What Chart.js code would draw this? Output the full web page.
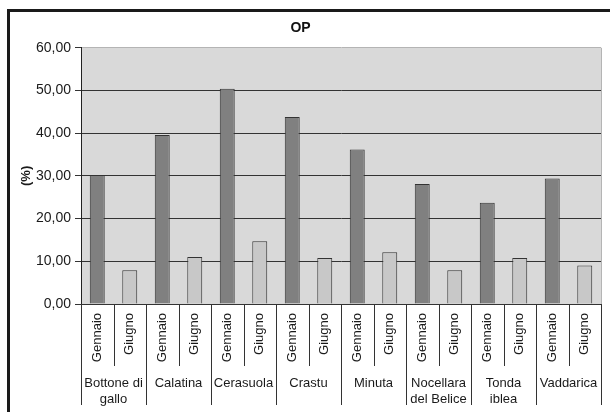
<!DOCTYPE html>
<html>
<head>
<meta charset="utf-8">
<script src="https://cdn.jsdelivr.net/npm/chart.js@4/dist/chart.umd.min.js"></script>
<style>
  html, body { margin: 0; padding: 0; background: #fff; }
  #wrap { width: 610px; height: 412px; }
</style>
</head>
<body>
<div id="wrap"><canvas id="op"></canvas></div>
<script>
// cultivar (multi-line names split into rows), months, percentages
const cultivar = [["Bottone di", "gallo"], "Calatina", "Cerasuola", "Crastu", "Minuta", ["Nocellara", "del Belice"], ["Tonda", "iblea"], "Vaddarica"];
const mesi = ["Gennaio", "Giugno"];
const gennaio = [30.2, 39.6, 50.4, 43.8, 36.2, 28.1, 23.7, 29.4];
const giugno = [7.9, 11.0, 14.7, 10.8, 12.1, 7.9, 10.8, 9.0];
const yTicks = [0, 10, 20, 30, 40, 50, 60];

const FONT = '"Liberation Sans", Arial, sans-serif';
const coloreMese = ["#808080", "#c8c8c8"];

// one bar per (cultivar, month) pair
const etichette = [], valori = [], colori = [];
cultivar.forEach((c, i) => {
  [gennaio[i], giugno[i]].forEach((v, m) => {
    etichette.push([mesi[m], c]);
    valori.push(v);
    colori.push(coloreMese[m]);
  });
});

const assiCategorie = {
  id: "assiCategorie",
  beforeDraw(chart) {
    const { ctx, chartArea: a } = chart;
    ctx.save();
    ctx.fillStyle = "#d9d9d9";
    ctx.fillRect(a.left, a.top, a.right - a.left, a.bottom - a.top);
    ctx.strokeStyle = "#b4b4b4";
    ctx.lineWidth = 1;
    ctx.beginPath();
    ctx.moveTo(a.right + 0.5, a.top);
    ctx.lineTo(a.right + 0.5, a.bottom);
    ctx.stroke();
    ctx.restore();
  },
  afterDraw(chart) {
    const { ctx, chartArea: a } = chart;
    const xs = chart.scales.x;
    const n = chart.data.labels.length;
    const centri = chart.data.labels.map((_, i) => xs.getPixelForValue(i));
    const y0 = a.bottom;
    ctx.save();

    // separators between months and between cultivars
    ctx.strokeStyle = "#333";
    ctx.lineWidth = 1;
    for (let k = 0; k <= n; k++) {
      const bx = k === 0 ? a.left : k === n ? a.right : (centri[k - 1] + centri[k]) / 2;
      const fondo = k % 2 === 0 ? y0 + 101 : y0 + 62;
      const px = Math.round(bx) + 0.5;
      ctx.beginPath();
      ctx.moveTo(px, y0);
      ctx.lineTo(px, fondo);
      ctx.stroke();
    }

    ctx.fillStyle = "#1a1a1a";
    ctx.font = "13px " + FONT;

    // month names, vertical
    chart.data.labels.forEach((lab, i) => {
      ctx.save();
      ctx.translate(centri[i], y0 + 9);
      ctx.rotate(-Math.PI / 2);
      ctx.textAlign = "right";
      ctx.textBaseline = "middle";
      ctx.fillText(lab[0], 0, 0);
      ctx.restore();
    });

    // cultivar names
    ctx.textAlign = "center";
    ctx.textBaseline = "middle";
    cultivar.forEach((c, g) => {
      const cx = (centri[2 * g] + centri[2 * g + 1]) / 2;
      const righe = Array.isArray(c) ? c : [c];
      righe.forEach((r, j) => ctx.fillText(r, cx, y0 + 79 + j * 16.5));
    });

    // outer frame
    ctx.strokeStyle = "#1a1a1a";
    ctx.lineWidth = 3;
    ctx.strokeRect(8.5, 10.5, 700, 500);
    ctx.restore();
  }
};

new Chart(document.getElementById("op"), {
  type: "bar",
  data: {
    labels: etichette,
    datasets: [{
      data: valori,
      backgroundColor: colori,
      borderColor: "#333",
      borderWidth: 1,
      barPercentage: 0.46,
      categoryPercentage: 1
    }]
  },
  options: {
    responsive: true,
    maintainAspectRatio: false,
    animation: false,
    layout: { padding: { left: 0, right: 9, top: 0, bottom: 0 } },
    plugins: {
      legend: { display: false },
      tooltip: { enabled: false },
      title: {
        display: true,
        text: "OP",
        color: "#111",
        font: { family: FONT, size: 14, weight: "bold" },
        padding: { top: 20, bottom: 11 }
      }
    },
    scales: {
      x: {
        offset: true,
        grid: { display: false },
        border: { display: false },
        ticks: { display: false },
        afterFit: (s) => { s.height = 108; }
      },
      y: {
        min: 0,
        max: 60,
        afterBuildTicks: (s) => { s.ticks = yTicks.map(v => ({ value: v })); },
        afterFit: (s) => { s.width = 81; },
        ticks: {
          color: "#1a1a1a",
          padding: 4,
          font: { family: FONT, size: 14 },
          callback: (v) => Number(v).toFixed(2).replace(".", ",")
        },
        grid: {
          color: (c) => (c.tick && c.tick.value === 60 ? "#b4b4b4" : "#333"),
          tickColor: "#333",
          tickLength: 6
        },
        border: { color: "#222", width: 1 },
        title: {
          display: true,
          text: "(%)",
          color: "#1a1a1a",
          font: { family: FONT, size: 13, weight: "bold" },
          padding: { top: 19, bottom: 0 }
        }
      }
    }
  },
  plugins: [assiCategorie]
});
</script>
</body>
</html>
